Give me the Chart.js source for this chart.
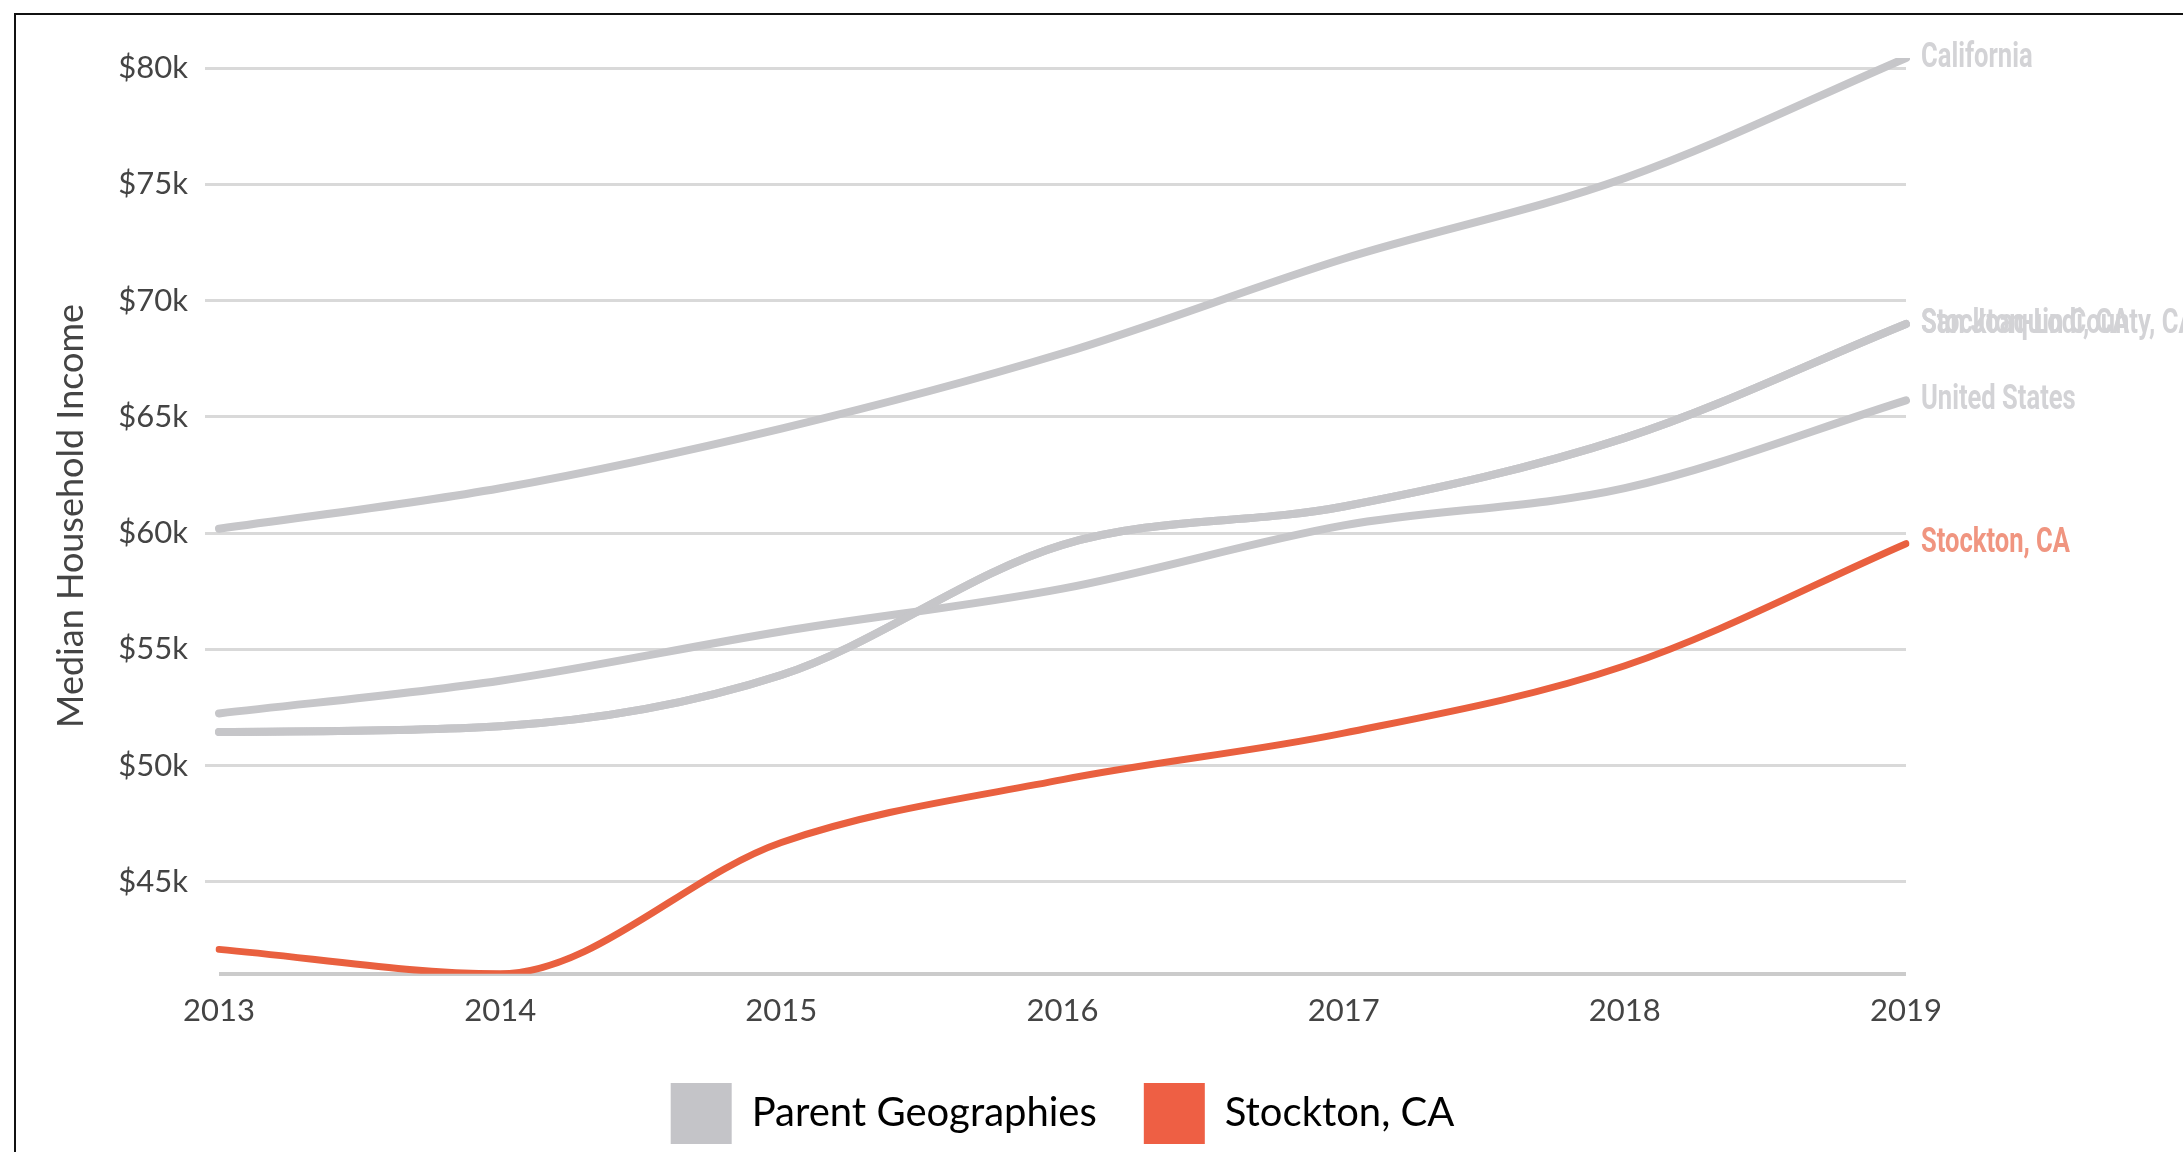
<!DOCTYPE html>
<html>
<head>
<meta charset="utf-8">
<script src="https://cdn.jsdelivr.net/npm/chart.js@4.4.1/dist/chart.umd.min.js"></script>
<style>
    html, body { margin: 0; padding: 0; background: #fff; overflow: hidden; }
    #wrap { position: relative; width: 2183px; height: 1152px; }
    #frame {
        position: absolute; left: 14px; top: 13px; width: 2300px; height: 1300px;
        border: 2px solid #111; pointer-events: none;
    }
</style>
</head>
<body>
<div id="wrap">
    <canvas id="rendaChart" width="2183" height="1152"></canvas>
    <div id="frame"></div>
</div>
<script>
// Dados (ACS, renda mediana das famílias)
const anos = ['2013', '2014', '2015', '2016', '2017', '2018', '2019'];
const california = [60190, 61933, 64500, 67739, 71805, 75277, 80440];
const condado = [51450, 51700, 53900, 59500, 61150, 64100, 69000];
const metro = [51450, 51700, 53900, 59500, 61150, 64100, 69000];
const estadosUnidos = [52250, 53657, 55775, 57617, 60336, 61937, 65712];
const stockton = [42100, 41050, 46700, 49400, 51400, 54300, 59550];
const ticksY = [45000, 50000, 55000, 60000, 65000, 70000, 75000, 80000];

const cinza = '#c6c6c9';
const vermelho = '#e9603f';

// limites do eixo = mínimo e máximo dos dados
const todos = [].concat(california, condado, estadosUnidos, stockton);
const minY = Math.min(...todos);
const maxY = Math.max(...todos);

function serie(label, data, cor, largura, corRotulo) {
    return {
        label: label,
        data: data,
        borderColor: cor,
        borderWidth: largura,
        borderCapStyle: 'round',
        pointRadius: 0,
        pointHoverRadius: 0,
        cubicInterpolationMode: 'monotone',
        fill: false,
        corRotulo: corRotulo
    };
}

// Rótulos no fim de cada linha (fonte condensada)
const rotulosFinais = {
    id: 'rotulosFinais',
    afterDatasetsDraw(chart) {
        const ctx = chart.ctx;
        chart.data.datasets.forEach((ds, i) => {
            const meta = chart.getDatasetMeta(i);
            const p = meta.data[meta.data.length - 1];
            ctx.save();
            ctx.font = 'bold 35px Roboto, sans-serif';
            ctx.fillStyle = ds.corRotulo;
            ctx.textBaseline = 'middle';
            ctx.translate(p.x + 15, p.y);
            ctx.scale(0.73, 1);
            ctx.fillText(ds.label, 0, 0);
            ctx.restore();
        });
    }
};

const ctx = document.getElementById('rendaChart').getContext('2d');
new Chart(ctx, {
    type: 'line',
    data: {
        labels: anos,
        datasets: [
            serie('California', california, cinza, 8, '#d3d3d6'),
            serie('San Joaquin County, CA', condado, cinza, 8, '#d3d3d6'),
            serie('Stockton-Lodi, CA', metro, cinza, 8, '#d3d3d6'),
            serie('United States', estadosUnidos, cinza, 8, '#d3d3d6'),
            serie('Stockton, CA', stockton, vermelho, 7, '#f09580')
        ]
    },
    options: {
        responsive: false,
        animation: false,
        layout: { padding: { left: 0, right: 277, top: 58, bottom: -2 } },
        plugins: {
            tooltip: { enabled: false },
            legend: {
                position: 'bottom',
                fullSize: false,
                labels: {
                    boxWidth: 61,
                    boxHeight: 61,
                    padding: 47,
                    color: '#333',
                    font: { family: 'Lato, sans-serif', size: 40 },
                    generateLabels: () => [
                        { text: 'Parent Geographies', fillStyle: '#c4c4c8', strokeStyle: '#c4c4c8', lineWidth: 0 },
                        { text: 'Stockton, CA', fillStyle: '#ee5f44', strokeStyle: '#ee5f44', lineWidth: 0 }
                    ]
                }
            }
        },
        scales: {
            x: {
                offset: false,
                grid: { display: false },
                border: { display: false },
                afterFit: (scale) => { scale.height = scale.height - 5; },
                ticks: {
                    color: '#444',
                    padding: 11,
                    maxRotation: 0,
                    font: { family: 'Lato, sans-serif', size: 31 }
                }
            },
            y: {
                min: minY,
                max: maxY,
                afterFit: (scale) => { scale.width = 219; },
                afterBuildTicks: (scale) => {
                    scale.ticks = [minY].concat(ticksY).map(v => ({ value: v }));
                },
                border: { display: false },
                grid: {
                    color: (c) => c.index === 0 ? '#cbcbcb' : '#d9d9d9',
                    lineWidth: (c) => c.index === 0 ? 4 : 3,
                    tickLength: 14,
                    tickColor: (c) => c.index === 0 ? 'rgba(0,0,0,0)' : '#d9d9d9',
                    tickWidth: 3
                },
                ticks: {
                    color: '#444',
                    padding: 17,
                    font: { family: 'Lato, sans-serif', size: 31 },
                    callback: (v) => v === minY ? '' : '$' + (v / 1000) + 'k'
                },
                title: {
                    display: true,
                    text: 'Median Household Income',
                    color: '#444',
                    padding: { top: 50, bottom: 0 },
                    font: { family: 'Lato, sans-serif', size: 36 }
                }
            }
        }
    },
    plugins: [rotulosFinais]
});
</script>
</body>
</html>
